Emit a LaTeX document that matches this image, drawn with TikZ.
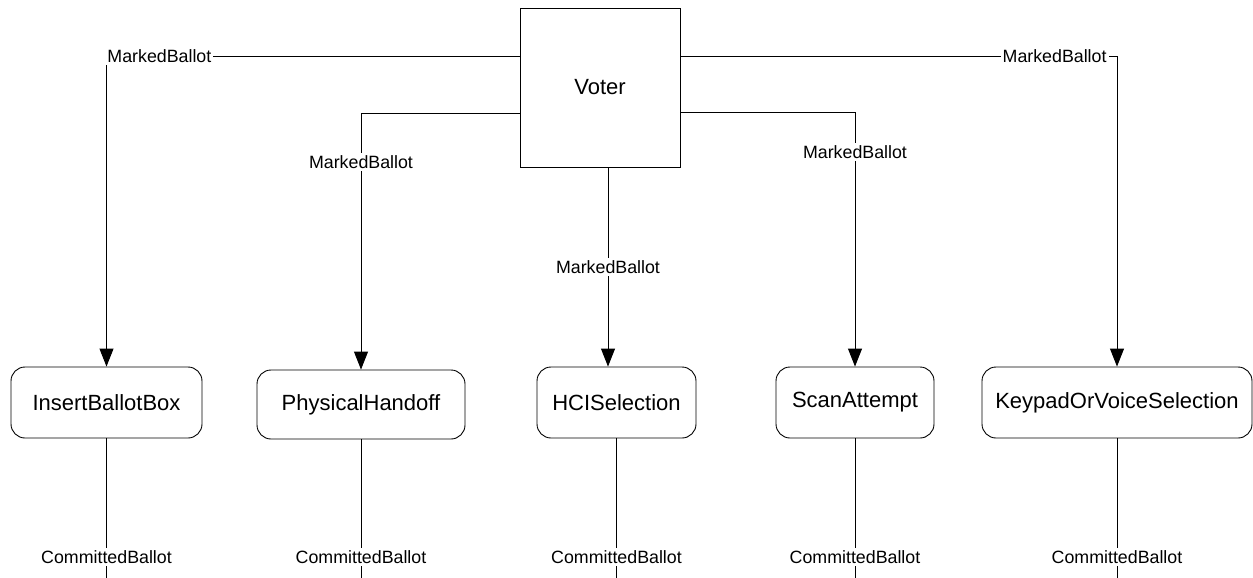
\documentclass[tikz,border=0pt]{standalone}
\usepackage{fontspec}
\setmainfont{Liberation Sans}
\usetikzlibrary{positioning, arrows.meta}

\begin{document}
\begin{tikzpicture}[x=0.5pt, y=-0.5pt, line width=0.45pt,
    actor/.style={draw, rectangle, minimum width=80pt, minimum height=79.5pt, inner sep=0pt, font=\fontsize{11}{13}\selectfont},
    task/.style={draw, rounded corners=7pt, minimum height=35.5pt, inner sep=0pt, font=\fontsize{11}{13}\selectfont},
    lbl/.style={fill=white, inner sep=1pt, font=\fontsize{8.9}{10.5}\selectfont},
    flow/.style={-{Triangle[length=9pt, width=7pt]}}]
    \useasboundingbox (0,0) rectangle (1253,578);

    %% voter and the five tasks
    \node[actor] (voter) at (600,87.5) {Voter};
    \node[task, minimum width=95.5pt] (ibb) at (106.5,402.5) {InsertBallotBox};
    \node[task, minimum width=104pt, minimum height=34.5pt] (pho) at (361,404.5) {PhysicalHandoff};
    \node[task, minimum width=79.5pt] (hci) at (616.5,402.5) {HCISelection};
    \node[task, minimum width=79pt] (sca) at (855,402.5) {ScanAttempt};
    \node[task, minimum width=135pt] (kov) at (1117,402.5) {KeypadOrVoiceSelection};

    %% marked ballots
    \coordinate (vs) at ([xshift=4pt]voter.south);
    \draw[flow] (voter.west |- 0,56) -| (ibb.north);
    \draw[flow] (voter.west |- 0,113) -| (pho.north);
    \draw[flow] (vs) -- (vs |- hci.north);
    \draw[flow] (voter.east |- 0,112) -| (sca.north);
    \draw[flow] (voter.east |- 0,56) -| (kov.north);
    \node[lbl, anchor=west] (m1) at (105,56) {MarkedBallot};
    \node[lbl] (m2) at (361,162) {MarkedBallot};
    \node[lbl] (m3) at (608,267) {MarkedBallot};
    \node[lbl] (m4) at (855,152) {MarkedBallot};
    \node[lbl, anchor=east] (m5) at (1109,56) {MarkedBallot};

    %% committed ballots
    \coordinate (bot) at (0,578);
    \draw (ibb.south) -- (ibb.south |- bot)
          (pho.south) -- (pho.south |- bot)
          (hci.south) -- (hci.south |- bot)
          (sca.south) -- (sca.south |- bot)
          (kov.south) -- (kov.south |- bot);
    \node[lbl] (c1) at (106.5,557) {CommittedBallot};
    \node[lbl] (c2) at (361,557) {CommittedBallot};
    \node[lbl] (c3) at (616.5,557) {CommittedBallot};
    \node[lbl] (c4) at (855,557) {CommittedBallot};
    \node[lbl] (c5) at (1117,557) {CommittedBallot};
\end{tikzpicture}
\end{document}
